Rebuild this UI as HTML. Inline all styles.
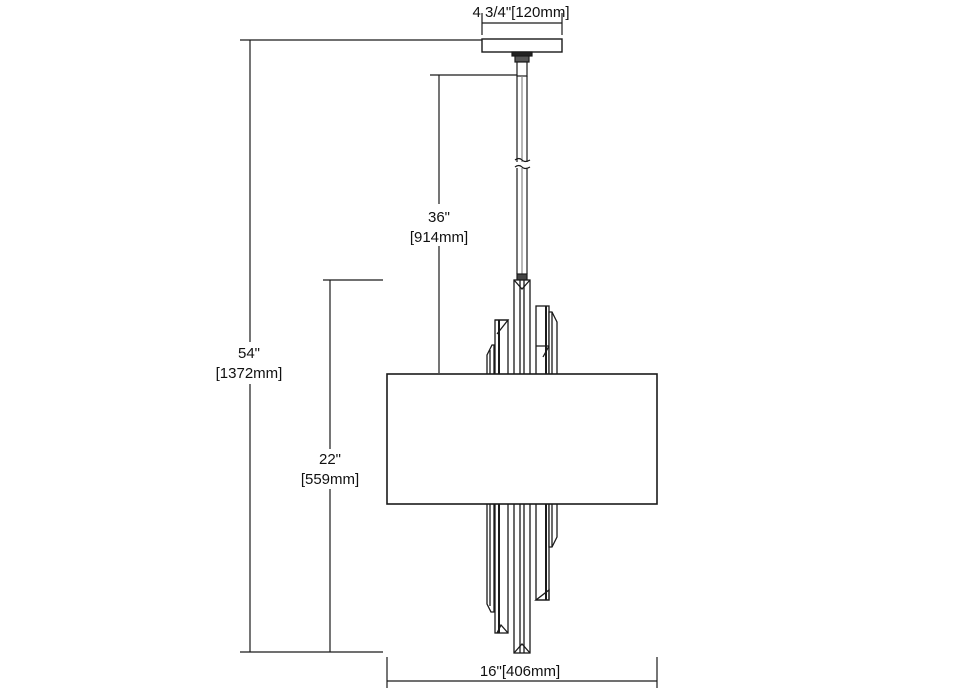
<!DOCTYPE html>
<html><head><meta charset="utf-8"><style>
html,body{margin:0;padding:0;background:#fff;}
svg{display:block;}
text{font-family:"Liberation Sans",sans-serif;font-size:15px;fill:#111;}
</style></head><body>
<svg width="980" height="700" viewBox="0 0 980 700" xmlns="http://www.w3.org/2000/svg" stroke="#1a1a1a" fill="none" stroke-width="1.2">
<!-- top width dim -->
<line x1="482" y1="13" x2="482" y2="35"/><line x1="562" y1="13" x2="562" y2="35"/>
<line x1="482" y1="23" x2="562" y2="23"/>
<text x="521" y="17" text-anchor="middle" stroke="none">4 3/4"[120mm]</text>
<!-- canopy -->
<rect x="482" y="39" width="80" height="13" stroke-width="1.4"/>
<rect x="512" y="52" width="20" height="4" fill="#222"/>
<rect x="515" y="56" width="14" height="6" fill="#555"/>
<rect x="517" y="62" width="10" height="14" fill="#fff"/>
<!-- rod -->
<line x1="517" y1="76" x2="517" y2="162"/><line x1="527" y1="76" x2="527" y2="162"/>
<line x1="522" y1="76" x2="522" y2="162" stroke="#888"/>
<path d="M515 160 q4 -3 7 0 t8 0 M515 167 q4 -3 7 0 t8 0"/>
<line x1="517" y1="168" x2="517" y2="274"/><line x1="527" y1="168" x2="527" y2="274"/>
<line x1="522" y1="168" x2="522" y2="274" stroke="#888"/>
<rect x="517" y="274" width="10" height="6" fill="#444"/>
<!-- crystals -->
<g stroke-width="1.3">
<rect x="514" y="280" width="16" height="373" fill="#fff"/>
<line x1="520" y1="280" x2="520" y2="653"/><line x1="524" y1="280" x2="524" y2="653"/>
<path d="M514 280 L522 289 L530 280"/><path d="M514 653 L522 644 L530 653"/>
<rect x="495" y="320" width="13" height="313" fill="#fff"/>
<line x1="499" y1="320" x2="499" y2="633" stroke-width="2"/>
<path d="M495 320 L508 320 L497 334"/><path d="M497 633 L501 625 L508 633"/>
<path d="M487 355 L492 345 L494 345 L494 612 L491 612 L487 604 Z" fill="#fff"/>
<line x1="490" y1="350" x2="490" y2="606"/>
<rect x="536" y="306" width="13" height="294" fill="#fff"/>
<line x1="546" y1="306" x2="546" y2="600" stroke-width="2"/>
<path d="M536 346 L549 346 L543 357"/><path d="M536 600 L549 600 L549 590 Z"/>
<path d="M549 312 L552 312 L557 322 L557 537 L552 547 L549 547 Z" fill="#fff"/>
<line x1="552" y1="312" x2="552" y2="547"/>
</g>
<!-- shade -->
<rect x="387" y="374" width="270" height="130" fill="#fff" stroke-width="1.6"/>
<!-- 54 dim -->
<line x1="240" y1="40" x2="482" y2="40"/><line x1="250" y1="40" x2="250" y2="652"/>
<line x1="240" y1="652" x2="383" y2="652"/>
<rect x="205" y="342" width="90" height="42" fill="#fff" stroke="none"/>
<text x="249" y="358" text-anchor="middle" stroke="none">54"</text>
<text x="249" y="378" text-anchor="middle" stroke="none">[1372mm]</text>
<!-- 36 dim -->
<line x1="430" y1="75" x2="517" y2="75"/><line x1="439" y1="75" x2="439" y2="373"/>
<rect x="398" y="204" width="82" height="42" fill="#fff" stroke="none"/>
<text x="439" y="222" text-anchor="middle" stroke="none">36"</text>
<text x="439" y="242" text-anchor="middle" stroke="none">[914mm]</text>
<!-- 22 dim -->
<line x1="323" y1="280" x2="383" y2="280"/><line x1="330" y1="280" x2="330" y2="652"/>
<rect x="293" y="449" width="76" height="40" fill="#fff" stroke="none"/>
<text x="330" y="464" text-anchor="middle" stroke="none">22"</text>
<text x="330" y="484" text-anchor="middle" stroke="none">[559mm]</text>
<!-- 16 dim -->
<line x1="387" y1="657" x2="387" y2="688"/><line x1="657" y1="657" x2="657" y2="688"/>
<line x1="387" y1="681" x2="657" y2="681"/>
<text x="520" y="676" text-anchor="middle" stroke="none">16"[406mm]</text>
</svg>
</body></html>
